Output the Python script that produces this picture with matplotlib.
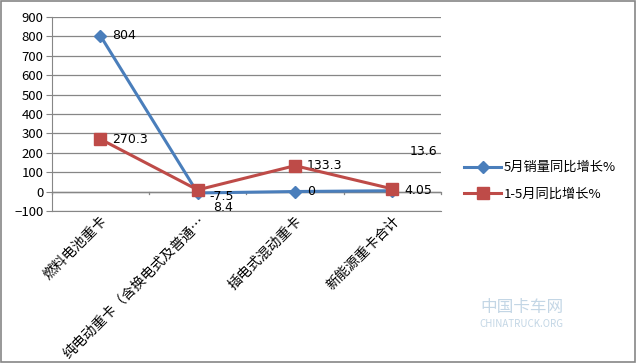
import matplotlib.pyplot as plt
from matplotlib.patches import Rectangle

plt.rcParams['font.family'] = ['Noto Sans CJK SC', 'DejaVu Sans']

categories = ['燃料电池重卡', '纯电动重卡（含换电式及普通…', '插电式混动重卡', '新能源重卡合计']
may_yoy = [804, -7.5, 0, 4.05]
ytd_yoy = [270.3, 8.4, 133.3, 13.6]
may_labels = ['804', '-7.5', '0', '4.05']
ytd_labels = ['270.3', '8.4', '133.3', '13.6']
series_names = ['5月销量同比增长%', '1-5月同比增长%']

blue = '#4A7EBB'
red = '#BE4B48'

fig = plt.figure(figsize=(6.36, 3.63), dpi=100)
ax = fig.add_axes([0.0813, 0.419, 0.612, 0.534])

x = list(range(len(categories)))
ax.plot(x, may_yoy, color=blue, lw=2.2, marker='D', ms=6, label=series_names[0], zorder=3)
ax.plot(x, ytd_yoy, color=red, lw=2.2, marker='s', ms=8, label=series_names[1], zorder=4)

ax.set_xlim(-0.5, 3.5)
ax.set_ylim(-100, 900)
ax.set_yticks(range(-100, 1000, 100))
ax.yaxis.grid(True, color='#868686', lw=0.9)
ax.set_axisbelow(True)
for s in ['top', 'right']:
    ax.spines[s].set_visible(False)
ax.spines['left'].set_color('#868686')
ax.spines['bottom'].set_color('#868686')
ax.tick_params(axis='y', length=4, color='#868686', labelsize=9.5, pad=2)
ax.tick_params(axis='x', length=0, pad=2)
ax.set_xticks(x)
ax.set_xticklabels(categories, rotation=45, ha='right', va='top',
                   rotation_mode='anchor', fontsize=10)
# category boundary ticks on the zero line
for b in [-0.5, 0.5, 1.5, 2.5, 3.5]:
    ax.plot([b, b], [0, -12], color='#868686', lw=0.9, clip_on=False)
ax.axhline(0, color='#868686', lw=1.0, zorder=1)

# data labels
lab_kw = dict(fontsize=9, family=['DejaVu Sans'], va='center')
ax.text(0.12, 804, may_labels[0], **lab_kw)
ax.text(0.12, 270.3, ytd_labels[0], **lab_kw)
ax.text(1.12, -25, may_labels[1], **lab_kw)
ax.text(1.16, -85, ytd_labels[1], **lab_kw)
ax.text(2.12, 0, may_labels[2], **lab_kw)
ax.text(2.12, 133.3, ytd_labels[2], **lab_kw)
ax.text(3.12, 4.05, may_labels[3], **lab_kw)
ax.text(3.18, 205, ytd_labels[3], **lab_kw)

ax.legend(loc='center left', bbox_to_anchor=(1.03, 0.155), frameon=False,
          fontsize=9.5, handlelength=2.8, labelspacing=1.0, handletextpad=0.2)

fig.text(0.82, 0.14, '中国卡车网', fontsize=12, color='#9bbbd4', alpha=0.6, ha='center')
fig.text(0.82, 0.1, 'CHINATRUCK.ORG', fontsize=7, color='#9bbbd4', alpha=0.6, ha='center')

fig.patches.append(Rectangle((0.001, 0.003), 0.997, 0.994, transform=fig.transFigure,
                             fill=False, edgecolor='#868686', lw=1.2))

fig.savefig('out.png', dpi=100)
